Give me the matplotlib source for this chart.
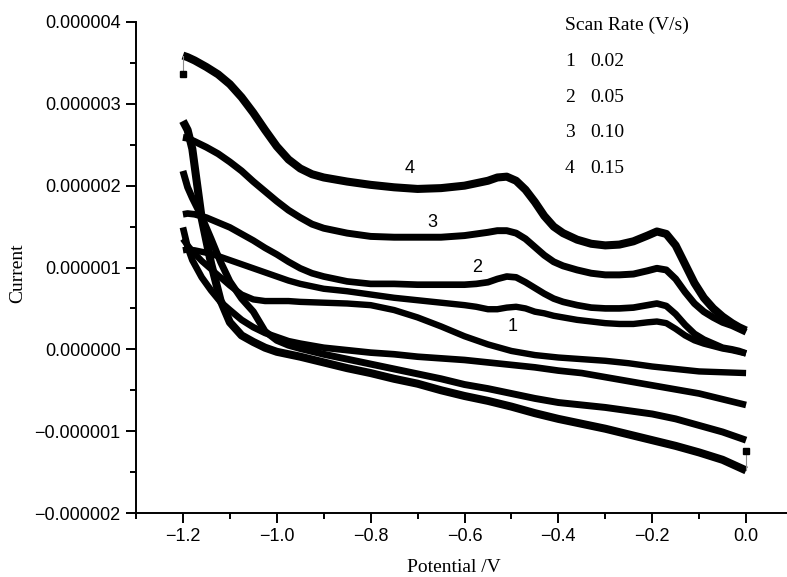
import numpy as np
import matplotlib
matplotlib.use("Agg")
import matplotlib.pyplot as plt
from matplotlib.ticker import MultipleLocator, FuncFormatter

# ---------------- data (currents in microamps, converted to A below) -------------
scan_ids = ["1", "2", "3", "4"]
scan_rates = ["0.02", "0.05", "0.10", "0.15"]

# anodic (return) branch: -1.2 V -> 0 V
E_up = [-1.2, -1.19, -1.175, -1.15, -1.125, -1.1, -1.075, -1.05, -1.025, -1.0,
        -0.975, -0.95, -0.925, -0.9, -0.85, -0.8, -0.75, -0.7, -0.65, -0.6,
        -0.575, -0.55, -0.53, -0.51, -0.49, -0.47, -0.45, -0.43, -0.41, -0.39,
        -0.36, -0.33, -0.3, -0.27, -0.24, -0.21, -0.19, -0.17, -0.15, -0.13,
        -0.11, -0.09, -0.07, -0.05, -0.03, -0.015, 0.0]
I_up_1 = [1.21, 1.22, 1.21, 1.18, 1.14, 1.09, 1.04, 0.99, 0.94, 0.89,
          0.84, 0.80, 0.77, 0.74, 0.71, 0.67, 0.63, 0.60, 0.57, 0.54,
          0.52, 0.49, 0.49, 0.51, 0.52, 0.50, 0.46, 0.44, 0.41, 0.39,
          0.36, 0.34, 0.32, 0.31, 0.31, 0.33, 0.34, 0.32, 0.25, 0.17,
          0.11, 0.07, 0.04, 0.01, -0.01, -0.03, -0.05]
I_up_2 = [1.65, 1.66, 1.65, 1.61, 1.55, 1.49, 1.41, 1.33, 1.24, 1.16,
          1.07, 0.99, 0.93, 0.89, 0.83, 0.80, 0.80, 0.79, 0.79, 0.79,
          0.80, 0.82, 0.86, 0.89, 0.88, 0.82, 0.75, 0.68, 0.62, 0.58,
          0.54, 0.51, 0.50, 0.50, 0.51, 0.54, 0.56, 0.53, 0.43, 0.30,
          0.19, 0.12, 0.07, 0.02, 0.00, -0.02, -0.05]
I_up_3 = [2.59, 2.58, 2.54, 2.47, 2.39, 2.29, 2.18, 2.05, 1.93, 1.81,
          1.70, 1.61, 1.53, 1.48, 1.42, 1.38, 1.37, 1.37, 1.37, 1.39,
          1.41, 1.43, 1.45, 1.45, 1.42, 1.35, 1.25, 1.15, 1.07, 1.02,
          0.97, 0.93, 0.91, 0.91, 0.92, 0.96, 0.99, 0.97, 0.86, 0.70,
          0.56, 0.46, 0.39, 0.33, 0.29, 0.25, 0.21]
I_up_4 = [3.59, 3.57, 3.53, 3.45, 3.36, 3.24, 3.08, 2.89, 2.68, 2.48,
          2.32, 2.21, 2.14, 2.10, 2.05, 2.01, 1.98, 1.96, 1.97, 2.00,
          2.03, 2.06, 2.10, 2.11, 2.06, 1.95, 1.80, 1.63, 1.50, 1.42,
          1.34, 1.29, 1.27, 1.28, 1.32, 1.39, 1.44, 1.41, 1.27, 1.04,
          0.81, 0.63, 0.50, 0.40, 0.32, 0.27, 0.23]

# cathodic (forward) branch: 0 V -> -1.2 V
E_low = [0.0, -0.05, -0.1, -0.15, -0.2, -0.25, -0.3, -0.35, -0.4, -0.45, -0.5,
         -0.55, -0.6, -0.65, -0.7, -0.75, -0.8, -0.85, -0.9, -0.95, -0.975,
         -1.0, -1.025, -1.05, -1.075, -1.1, -1.12, -1.14, -1.16, -1.18, -1.19,
         -1.2]
I_low_1 = [-0.29, -0.28, -0.27, -0.24, -0.21, -0.17, -0.14, -0.12, -0.10, -0.07,
           -0.02, 0.06, 0.16, 0.28, 0.39, 0.48, 0.54, 0.56, 0.57, 0.58, 0.59,
           0.59, 0.59, 0.61, 0.67, 0.78, 0.88, 0.98, 1.08, 1.20, 1.27, 1.35]
I_low_2 = [-0.68, -0.61, -0.54, -0.49, -0.44, -0.39, -0.34, -0.29, -0.26, -0.22,
           -0.19, -0.16, -0.13, -0.11, -0.09, -0.06, -0.04, -0.01, 0.02, 0.07,
           0.10, 0.15, 0.20, 0.27, 0.36, 0.48, 0.58, 0.72, 0.88, 1.09, 1.25,
           1.49]
I_low_3 = [-1.11, -1.01, -0.93, -0.85, -0.79, -0.75, -0.71, -0.68, -0.65, -0.60,
           -0.54, -0.48, -0.43, -0.36, -0.30, -0.24, -0.18, -0.12, -0.06, 0.01,
           0.05, 0.11, 0.22, 0.46, 0.62, 0.83, 1.07, 1.35, 1.62, 1.85, 1.98,
           2.18]
I_low_4 = [-1.48, -1.35, -1.26, -1.18, -1.11, -1.04, -0.97, -0.91, -0.85, -0.78,
           -0.70, -0.63, -0.57, -0.50, -0.42, -0.36, -0.29, -0.23, -0.16, -0.09,
           -0.06, -0.03, 0.02, 0.09, 0.17, 0.33, 0.60, 1.05, 1.60, 2.45, 2.68,
           2.79]

# isolated first points of the recordings (E, I in microamps)
start_E = [-1.2, 0.0]
start_I = [3.37, -1.24]
start_link = [3.59, -1.48]

uA = 1e-6

# ---------------- figure ----------------
fig = plt.figure(figsize=(7.87, 5.77), dpi=100)
ax = fig.add_axes([136 / 787, 64 / 577, 657 / 787, 491 / 577])

uppers = [I_up_1, I_up_2, I_up_3, I_up_4]
lowers = [I_low_1, I_low_2, I_low_3, I_low_4]
widths = [4.6, 4.8, 5.0, 5.8]
for Iu, Il, lw in zip(uppers, lowers, widths):
    ax.plot(E_up, np.array(Iu) * uA, color="black", lw=lw,
            solid_capstyle="butt", solid_joinstyle="round")
    ax.plot(E_low, np.array(Il) * uA, color="black", lw=lw,
            solid_capstyle="butt", solid_joinstyle="round")

for e, i0, i1 in zip(start_E, start_I, start_link):
    ax.plot([e, e], [i0 * uA, i1 * uA], color="0.55", lw=0.8)
    ax.plot([e], [i0 * uA], marker="s", ms=5, color="black", ls="none")

ax.set_xlim(-1.3, 0.1)
ax.set_ylim(-2e-6, 4e-6)

for s in ("top", "right"):
    ax.spines[s].set_visible(False)
for s in ("left", "bottom"):
    ax.spines[s].set_linewidth(1.4)

ax.xaxis.set_major_locator(MultipleLocator(0.2))
ax.xaxis.set_minor_locator(MultipleLocator(0.1))
ax.yaxis.set_major_locator(MultipleLocator(1e-6))
ax.yaxis.set_minor_locator(MultipleLocator(0.5e-6))


def xfmt(v, pos):
    return f"{v:.1f}".replace("-", "\u2212")


def yfmt(v, pos):
    s = f"{v:.6f}"
    if s.startswith("-0.000000"):
        s = "0.000000"
    return s.replace("-", "\u2212")


ax.xaxis.set_major_formatter(FuncFormatter(xfmt))
ax.yaxis.set_major_formatter(FuncFormatter(yfmt))

ax.tick_params(which="major", direction="out", length=7, width=1.4, pad=4,
               labelsize=13)
ax.tick_params(which="minor", direction="out", length=4, width=1.4)
for lab in ax.get_xticklabels() + ax.get_yticklabels():
    lab.set_fontfamily("Liberation Sans")

ax.set_xlabel("Potential /V", fontfamily="Liberation Serif", fontsize=14,
              va="center")
ax.xaxis.set_label_coords((454 - 136) / 657, (513 - 567) / 491)
ax.set_ylabel("Current", fontfamily="Liberation Serif", fontsize=14,
              va="center", ha="center")
ax.yaxis.set_label_coords((18 - 136) / 657, (513 - 273) / 491)

# curve number labels
lab_pos = [(-0.498, 0.28), (-0.574, 1.00), (-0.668, 1.55), (-0.717, 2.21)]
for sid, (e, i) in zip(scan_ids, lab_pos):
    ax.text(e, i * uA, sid, fontsize=13, fontfamily="Liberation Sans",
            ha="center", va="center")

# legend-like text block
fig.text(565 / 787, 1 - 25 / 577, "Scan Rate (V/s)", fontsize=14,
         fontfamily="Liberation Serif", va="center", ha="left")
for k, (sid, rate) in enumerate(zip(scan_ids, scan_rates)):
    yy = 1 - (62 + 35.4 * k) / 577
    fig.text(565 / 787, yy, sid, fontsize=14, fontfamily="Liberation Serif",
             va="center", ha="left")
    fig.text(590 / 787, yy, rate, fontsize=14, fontfamily="Liberation Serif",
             va="center", ha="left")

fig.savefig("out.png", dpi=100)
